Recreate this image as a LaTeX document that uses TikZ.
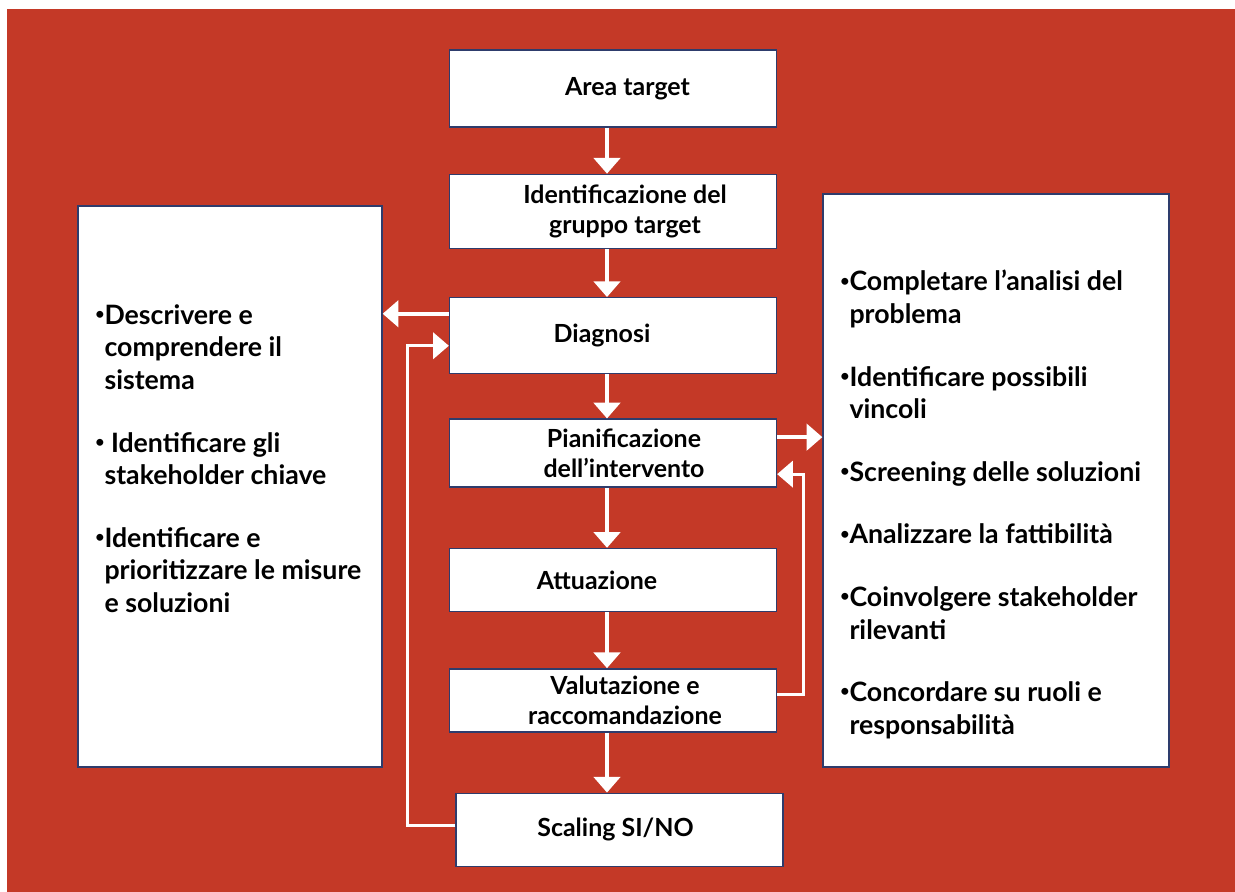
\documentclass[tikz,border=0pt]{standalone}
\usepackage{fontspec}
\setmainfont{Lato}
\usetikzlibrary{arrows.meta,positioning,calc}
\definecolor{bgred}{RGB}{196,57,39}
\definecolor{boxline}{RGB}{46,60,108}
\newcommand{\bul}{\raisebox{0.35ex}{\fontsize{9}{9}\selectfont •}}
\newcommand{\ind}{\hphantom{\bul}}
\newcommand{\nudge}[1]{\hspace*{#1}}

\begin{document}
\begin{tikzpicture}[x=0.02cm, y=-0.02cm,
  stage/.style={rectangle, draw=boxline, line width=0.8pt, fill=white,
    minimum width=6.54cm, font=\fontsize{14.2}{17}\selectfont\bfseries, align=center, inner sep=0pt},
  panel/.style={rectangle, draw=boxline, line width=0.8pt, fill=white, inner sep=0pt},
  points/.style={anchor=north west, inner sep=0pt, align=left,
    font=\fontsize{15.2}{18.6}\selectfont\bfseries},
  flow/.style={-{Triangle[width=15pt, length=9pt]}, line width=2.3pt, white},
  back/.style={flow, line width=1.8pt},
]
\useasboundingbox (0,0) rectangle (1235,892);
\fill[bgred] (7,9) rectangle (1235,892);

% Central column
\node[stage, minimum height=1.54cm] (area) at (613,88.5) {\nudge{0.58cm}Area target};
\node[stage, minimum height=1.48cm, below=0.92cm of area] (ident)
  {\nudge{0.48cm}Identificazione del\\\nudge{0.48cm}gruppo target};
\node[stage, minimum height=1.52cm, below=0.96cm of ident] (diag) {\nudge{-0.44cm}Diagnosi};
\node[stage, minimum height=1.36cm, below=0.88cm of diag] (pian)
  {\nudge{0.44cm}Pianificazione\\\nudge{0.44cm}dell’intervento};
\node[stage, minimum height=1.26cm, below=1.2cm of pian] (attu) {\nudge{-0.64cm}Attuazione};
\node[stage, minimum height=1.26cm, below=1.12cm of attu] (valu)
  {\nudge{0.48cm}Valutazione e\\\nudge{0.48cm}raccomandazione};
\node[stage, minimum height=1.46cm, below=1.2cm of valu, xshift=0.13cm] (scal) {\nudge{-0.16cm}Scaling SI/NO};
\coordinate (spine) at (607,0);

\draw[flow] (area.south -| spine) -- (ident.north -| spine);
\draw[flow] (ident.south -| spine) -- (diag.north -| spine);
\draw[flow] (diag.south -| spine) -- (pian.north -| spine);
\draw[flow] (pian.south -| spine) -- (attu.north -| spine);
\draw[flow] (attu.south -| spine) -- (valu.north -| spine);
\draw[flow] (valu.south -| spine) -- (scal.north -| spine);

% Side panels
\node[panel, minimum width=6.08cm, minimum height=11.22cm] (lbox) at (230,486.5) {};
\node[panel, minimum width=6.92cm, minimum height=11.46cm] (rbox) at (996,480.5) {};

\node[points] (lpts) at (95,304) {\bul Descrivere e\\ \ind comprendere il\\ \ind sistema\\[17pt]
  \bul\ Identificare gli\\ \ind stakeholder chiave\\[17pt]
  \bul Identificare e\\ \ind prioritizzare le misure\\ \ind e soluzioni};
\node[points] (rpts) at (840,270) {\bul Completare l’analisi del\\ \ind problema\\[17pt]
  \bul Identificare possibili\\ \ind vincoli\\[17pt]
  \bul Screening delle soluzioni\\[17pt]
  \bul Analizzare la fattibilità\\[17pt]
  \bul Coinvolgere stakeholder\\ \ind rilevanti\\[17pt]
  \bul Concordare su ruoli e\\ \ind responsabilità};

% Side arrows and feedback
\draw[flow] ($(diag.west)+(0,-22)$) -- ($(lbox.east |- diag.west)+(0,-22)$);
\draw[back] ($(scal.west)+(0,-4)$) -| ($(diag.west)+(-41,10)$) -- ($(diag.west)+(0,10)$);
\draw[flow] ($(pian.east)+(0,-16)$) -- ($(rbox.west |- pian.east)+(0,-16)$);
\draw[back] ($(valu.east)+(0,-6)$) -| ($(pian.east)+(26,21)$) -- ($(pian.east)+(0,21)$);

\end{tikzpicture}
\end{document}
